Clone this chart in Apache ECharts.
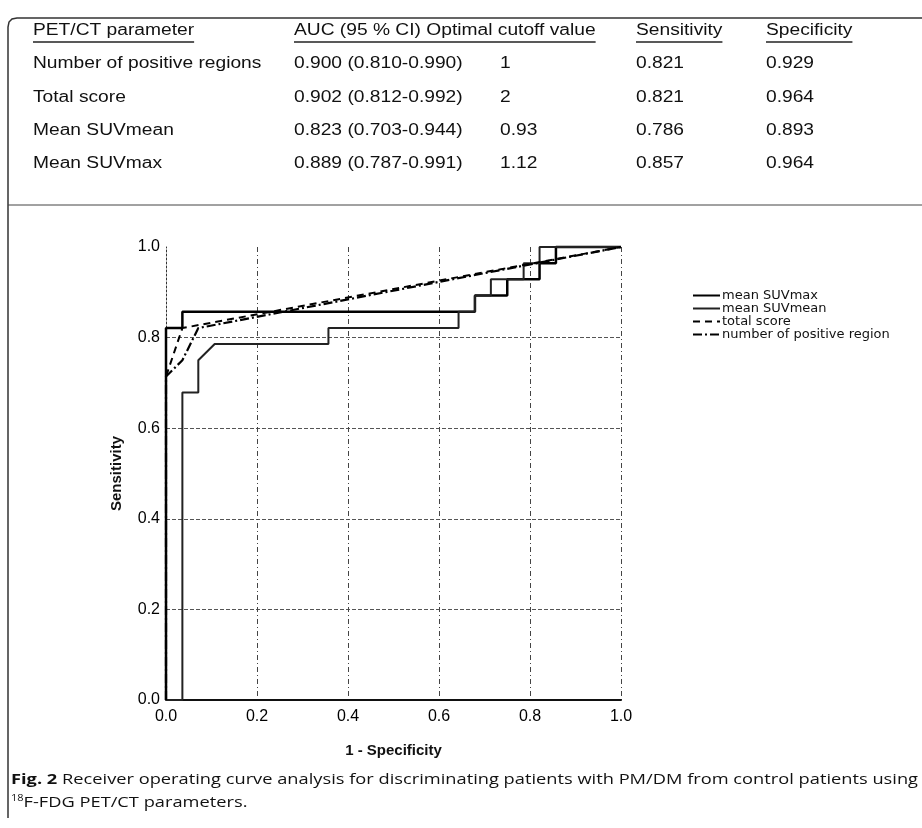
<!DOCTYPE html>
<html><head><meta charset="utf-8">
<script src="https://cdn.jsdelivr.net/npm/echarts@6/dist/echarts.min.js"></script>
<style>html,body{margin:0;padding:0;background:#fff}#c{width:922px;height:828px}</style>
</head><body><div id="c"></div>
<script>
// ---------- table data ----------
const tableHeaders = ['PET/CT parameter', 'AUC (95 % CI)', 'Optimal cutoff value', 'Sensitivity', 'Specificity'];
const parameters = ['Number of positive regions', 'Total score', 'Mean SUVmean', 'Mean SUVmax'];
const aucCI = ['0.900 (0.810-0.990)', '0.902 (0.812-0.992)', '0.823 (0.703-0.944)', '0.889 (0.787-0.991)'];
const cutoffs = ['1', '2', '0.93', '1.12'];
const sensitivities = ['0.821', '0.821', '0.786', '0.857'];
const specificities = ['0.929', '0.964', '0.893', '0.964'];

// ---------- ROC curves (1 - specificity, sensitivity) ----------
const seriesNames = ['mean SUVmax', 'mean SUVmean', 'total score', 'number of positive region'];
const suvmaxFpr = [0, 0, 0.036, 0.036, 0.679, 0.679, 0.750, 0.750, 0.821, 0.821, 0.857, 0.857, 1];
const suvmaxTpr = [0, 0.821, 0.821, 0.857, 0.857, 0.893, 0.893, 0.929, 0.929, 0.964, 0.964, 1, 1];
const suvmeanFpr = [0, 0.036, 0.036, 0.071, 0.071, 0.107, 0.357, 0.357, 0.643, 0.643, 0.679, 0.679, 0.714, 0.714, 0.786, 0.786, 0.821, 0.821, 1];
const suvmeanTpr = [0, 0, 0.679, 0.679, 0.750, 0.786, 0.786, 0.821, 0.821, 0.857, 0.857, 0.893, 0.893, 0.929, 0.929, 0.964, 0.964, 1, 1];
const totalFpr = [0, 0, 0.036, 1];
const totalTpr = [0, 0.714, 0.821, 1];
const regionsFpr = [0, 0, 0.036, 0.071, 1];
const regionsTpr = [0, 0.714, 0.750, 0.821, 1];

const axisTicks = ['0.0', '0.2', '0.4', '0.6', '0.8', '1.0'];
const xAxisName = '1 - Specificity';
const yAxisName = 'Sensitivity';

const captionBold = 'Fig. 2';
const captionRest = ' Receiver operating curve analysis for discriminating patients with PM/DM from control patients using';
const captionSup = '18';
const captionLine2 = 'F-FDG PET/CT parameters.';

// ---------- helpers ----------
const mctx = document.createElement('canvas').getContext('2d');
function tw(text, font) { mctx.font = font; return mctx.measureText(text).width; }

const TF = 16, TFAM = 'Liberation Sans', TSX = 1.2;
const tFont = TF + 'px "' + TFAM + '"';
function tText(str, x, y) {
  return { type: 'text', x: x, y: y, scaleX: TSX, silent: true,
    style: { text: str, fontSize: TF, fontFamily: TFAM, fill: '#111', align: 'left', verticalAlign: 'middle' } };
}
const colX = [33, 294, 0, 636, 766];
const headerY = 31;
const rowY = [64, 98, 131, 164];

const graphics = [];
const optX = colX[1] + tw(tableHeaders[1] + ' ', tFont) * TSX;
const cutoffX = 500;
const headerXs = [colX[0], colX[1], optX, colX[3], colX[4]];
const uY = headerY + 11;
tableHeaders.forEach((h, i) => {
  graphics.push(tText(h, headerXs[i], headerY));
  if (i !== 1) {
    graphics.push({ type: 'line', silent: true,
      shape: { x1: i === 2 ? headerXs[1] : headerXs[i], y1: uY, x2: headerXs[i] + tw(h, tFont) * TSX, y2: uY },
      style: { stroke: '#222', lineWidth: 1.3 } });
  }
});
parameters.forEach((p, i) => {
  graphics.push(tText(p, colX[0], rowY[i]));
  graphics.push(tText(aucCI[i], colX[1], rowY[i]));
  graphics.push(tText(cutoffs[i], cutoffX, rowY[i]));
  graphics.push(tText(sensitivities[i], colX[3], rowY[i]));
  graphics.push(tText(specificities[i], colX[4], rowY[i]));
});
// frame
graphics.push({ type: 'polyline', silent: true,
  shape: { points: [[8, 818], [8, 27], [9, 22], [12, 19], [17, 18], [922, 18]] },
  style: { stroke: '#333', lineWidth: 1.5, fill: null } });
graphics.push({ type: 'line', silent: true, shape: { x1: 8, y1: 205, x2: 922, y2: 205 },
  style: { stroke: '#444', lineWidth: 1 } });

// caption
const CF = 15, CFAM = 'Open Sans';
const boldW = tw(captionBold, 'bold ' + CF + 'px "' + CFAM + '"');
const restW = tw(captionRest, CF + 'px "' + CFAM + '"');
const csx = (918 - 11) / (boldW + restW);
graphics.push({ type: 'group', x: 11, y: 780, scaleX: csx, silent: true, children: [
  { type: 'text', x: 0, y: 0, style: { text: captionBold, fontSize: CF, fontFamily: CFAM, fontWeight: 'bold', fill: '#111', align: 'left', verticalAlign: 'middle' } },
  { type: 'text', x: boldW, y: 0, style: { text: captionRest, fontSize: CF, fontFamily: CFAM, fill: '#111', align: 'left', verticalAlign: 'middle' } },
  { type: 'text', x: 0, y: 18, style: { text: captionSup, fontSize: 9, fontFamily: CFAM, fill: '#111', align: 'left', verticalAlign: 'middle' } },
  { type: 'text', x: tw(captionSup, '9px "' + CFAM + '"'), y: 23, style: { text: captionLine2, fontSize: CF, fontFamily: CFAM, fill: '#111', align: 'left', verticalAlign: 'middle' } }
]});

function mk(name, xs, ys, width, type, color) {
  return { type: 'line', name: name, data: xs.map((x, i) => [x, ys[i]]), showSymbol: false, symbol: 'none',
    clip: false, silent: true, animation: false, lineStyle: { color: color, width: width, type: type },
    itemStyle: { color: color }, emphasis: { disabled: true } };
}
const tickFmt = v => axisTicks[Math.round(v / 0.2)];

const chart = echarts.init(document.getElementById('c'), null, { renderer: 'canvas' });
chart.setOption({
  backgroundColor: '#fff',
  animation: false,
  grid: { left: 166, right: 301, top: 247, bottom: 128, containLabel: false, outerBoundsMode: 'none' },
  legend: {
    orient: 'vertical', left: 692, top: 289, padding: 0, itemGap: 0, itemWidth: 27, itemHeight: 12,
    selectedMode: false, data: seriesNames,
    itemStyle: { color: 'rgba(0,0,0,0)', borderWidth: 0, opacity: 0 },
    textStyle: { fontFamily: 'DejaVu Sans', fontSize: 13, color: '#111', lineHeight: 12, padding: [0, 0, 0, -3] }
  },
  xAxis: {
    type: 'value', min: 0, max: 1, interval: 0.2,
    name: xAxisName, nameLocation: 'middle', nameGap: 43,
    nameTextStyle: { fontFamily: 'Liberation Sans', fontWeight: 'bold', fontSize: 15, color: '#111' },
    axisLine: { show: true, lineStyle: { color: '#111', width: 2 } },
    axisTick: { show: false },
    axisLabel: { formatter: tickFmt, fontFamily: 'Liberation Sans', fontSize: 16, color: '#000', margin: 9 },
    splitLine: { show: true, showMinLine: false, showMaxLine: true, lineStyle: { color: '#444', width: 1, type: [5, 3, 1, 3] } }
  },
  yAxis: {
    type: 'value', min: 0, max: 1, interval: 0.2,
    name: yAxisName, nameLocation: 'middle', nameGap: 42, nameRotate: 90,
    nameTextStyle: { fontFamily: 'Liberation Sans', fontWeight: 'bold', fontSize: 15, color: '#111' },
    axisLine: { show: true, lineStyle: { color: '#333', width: 1, type: [2, 2] } },
    axisTick: { show: false },
    axisLabel: { formatter: tickFmt, fontFamily: 'Liberation Sans', fontSize: 16, color: '#000', margin: 6 },
    splitLine: { show: true, showMinLine: false, showMaxLine: false, lineStyle: { color: '#555', width: 1, type: [4, 2] } }
  },
  series: [
    mk(seriesNames[0], suvmaxFpr, suvmaxTpr, 2.5, 'solid', '#000'),
    mk(seriesNames[1], suvmeanFpr, suvmeanTpr, 2, 'solid', '#222'),
    mk(seriesNames[2], totalFpr, totalTpr, 2, [7, 5], '#000'),
    mk(seriesNames[3], regionsFpr, regionsTpr, 2.2, [9, 3, 2, 3], '#000')
  ],
  graphic: { elements: graphics }
});
</script>
</body></html>
